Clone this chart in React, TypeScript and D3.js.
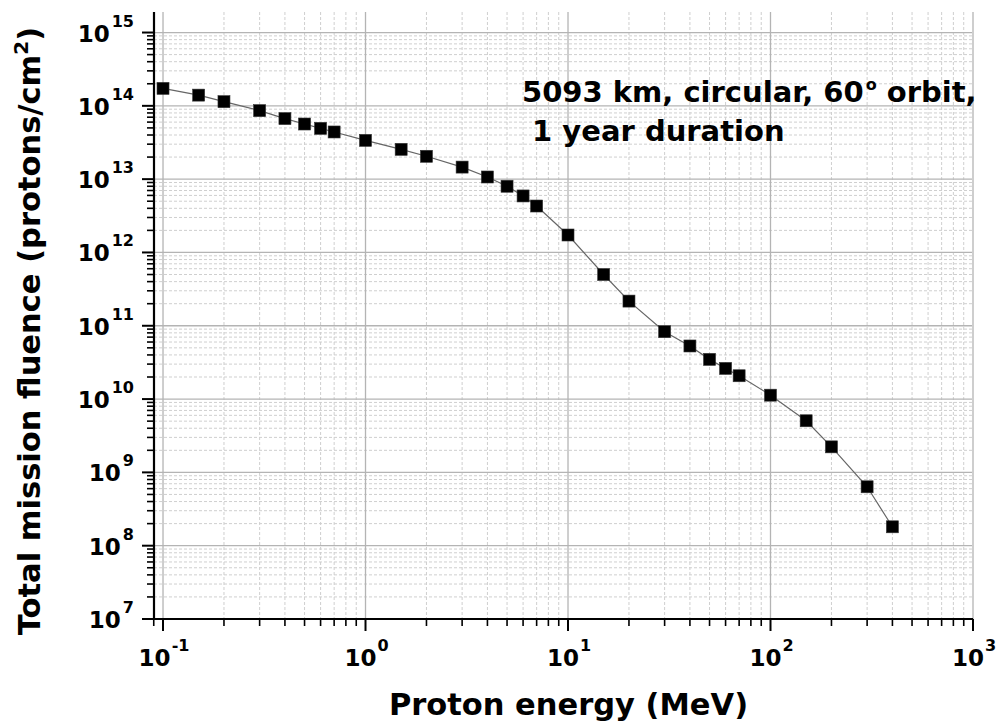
import React from 'react';
import * as d3 from 'd3';

const energies = [0.1, 0.15, 0.2, 0.3, 0.4, 0.5, 0.6, 0.7, 1, 1.5, 2, 3, 4, 5, 6, 7, 10, 15, 20, 30, 40, 50, 60, 70, 100, 150, 200, 300, 400];
const fluence = [1.73e14, 1.4e14, 1.14e14, 8.6e13, 6.7e13, 5.65e13, 4.93e13, 4.4e13, 3.38e13, 2.55e13, 2.05e13, 1.46e13, 1.07e13, 8.0e12, 5.9e12, 4.3e12, 1.73e12, 5.0e11, 2.17e11, 8.3e10, 5.3e10, 3.48e10, 2.62e10, 2.08e10, 1.13e10, 5.06e9, 2.23e9, 6.36e8, 1.81e8];
const xTickExps = [-1, 0, 1, 2, 3];
const yTickExps = [7, 8, 9, 10, 11, 12, 13, 14, 15];
const minorMult = [2, 3, 4, 5, 6, 7, 8, 9];
const xTitle = 'Proton energy (MeV)';
const yTitleMain = 'Total mission fluence (protons/cm';
const annotationLine1 = '5093 km, circular, 60';
const annotationLine1b = ' orbit,';
const annotationLine2 = ' 1 year duration';

const FONT = "'DejaVu Sans', Verdana, sans-serif";

export default function App() {
  const left = 154, right = 973, top = 12, bottom = 619;
  const x = d3.scaleLog().domain([Math.pow(10, -1.0445), 1000]).range([left, right]);
  const y = d3.scaleLog().domain([1e7, Math.pow(10, 15.28)]).range([bottom, top]);

  const xMinor: number[] = [];
  for (let e = -2; e <= 2; e++) for (const m of minorMult) {
    const v = m * Math.pow(10, e);
    if (x(v) >= left - 0.5 && x(v) <= right) xMinor.push(v);
  }
  const yMinor: number[] = [];
  for (let e = 7; e <= 14; e++) for (const m of minorMult) yMinor.push(m * Math.pow(10, e));

  const line = d3.line<number>().x((_, i) => x(energies[i])).y((d) => y(d));
  const ms = 12;

  return (
    <svg width={997} height={724} style={{ position: 'absolute', left: 0, top: 0, background: '#fff' }} fontFamily={FONT} fontWeight="bold">
      {/* minor grid */}
      {xMinor.map((v, i) => (
        <line key={'xm' + i} x1={x(v)} x2={x(v)} y1={top} y2={bottom} stroke="#cfcfcf" strokeWidth={1} strokeDasharray="3,2" />
      ))}
      {yMinor.map((v, i) => (
        <line key={'ym' + i} x1={left} x2={right - 1} y1={y(v)} y2={y(v)} stroke="#cfcfcf" strokeWidth={1} strokeDasharray="3,2" />
      ))}
      {/* major grid */}
      {xTickExps.map((e) => (
        <line key={'xg' + e} x1={x(Math.pow(10, e))} x2={x(Math.pow(10, e))} y1={top} y2={bottom} stroke="#b4b4b4" strokeWidth={1.3} />
      ))}
      {yTickExps.map((e) => (
        <line key={'yg' + e} x1={left} x2={right - 1} y1={y(Math.pow(10, e))} y2={y(Math.pow(10, e))} stroke="#b4b4b4" strokeWidth={1.3} />
      ))}
      {/* data line */}
      <path d={line(fluence) || ''} fill="none" stroke="#666" strokeWidth={1.2} />
      {fluence.map((v, i) => (
        <rect key={'p' + i} x={x(energies[i]) - ms / 2} y={y(v) - ms / 2} width={ms} height={ms} fill="#000" stroke="#333" strokeWidth={0.6} />
      ))}
      {/* axes */}
      <line x1={left} x2={left} y1={top} y2={bottom + 1} stroke="#000" strokeWidth={2.2} />
      <line x1={left - 1} x2={right} y1={bottom} y2={bottom} stroke="#000" strokeWidth={2.2} />
      {yTickExps.map((e) => (
        <line key={'yt' + e} x1={left - 12} x2={left} y1={y(Math.pow(10, e))} y2={y(Math.pow(10, e))} stroke="#000" strokeWidth={2} />
      ))}
      {yMinor.map((v, i) => (
        <line key={'ymt' + i} x1={left - 7} x2={left} y1={y(v)} y2={y(v)} stroke="#000" strokeWidth={1.6} />
      ))}
      {xTickExps.map((e) => (
        <line key={'xt' + e} x1={x(Math.pow(10, e))} x2={x(Math.pow(10, e))} y1={bottom} y2={bottom + 12} stroke="#000" strokeWidth={2} />
      ))}
      {xMinor.map((v, i) => (
        <line key={'xmt' + i} x1={x(v)} x2={x(v)} y1={bottom} y2={bottom + 7} stroke="#000" strokeWidth={1.6} />
      ))}
      {/* tick labels */}
      {yTickExps.map((e) => (
        <text key={'yl' + e} x={134} y={y(Math.pow(10, e)) + 9} textAnchor="end" fontSize={23} fill="#000">
          10<tspan fontSize={16} dx={2} dy={-15}>{String(e)}</tspan>
        </text>
      ))}
      {xTickExps.map((e) => (
        <text key={'xl' + e} x={x(Math.pow(10, e)) + 1} y={666} textAnchor="middle" fontSize={23} fill="#000">
          10<tspan fontSize={16} dx={1} dy={-15}>{e < 0 ? '-' + Math.abs(e) : String(e)}</tspan>
        </text>
      ))}
      {/* titles */}
      <text x={568.5} y={715} textAnchor="middle" fontSize={30.5} fill="#000">{xTitle}</text>
      <text transform="translate(40,331) rotate(-90)" textAnchor="middle" fontSize={30.5} fill="#000">
        {yTitleMain}<tspan fontSize={20} dy={-12}>2</tspan><tspan dy={12}>)</tspan>
      </text>
      {/* annotation */}
      <text x={522} y={102} fontSize={29} fill="#000">
        {annotationLine1}<tspan fontSize={16} dx={2} dy={-12}>o</tspan><tspan dy={12}>{annotationLine1b}</tspan>
      </text>
      <text x={522} y={141} fontSize={29} fill="#000" style={{ whiteSpace: 'pre' }}>{annotationLine2}</text>
    </svg>
  );
}
